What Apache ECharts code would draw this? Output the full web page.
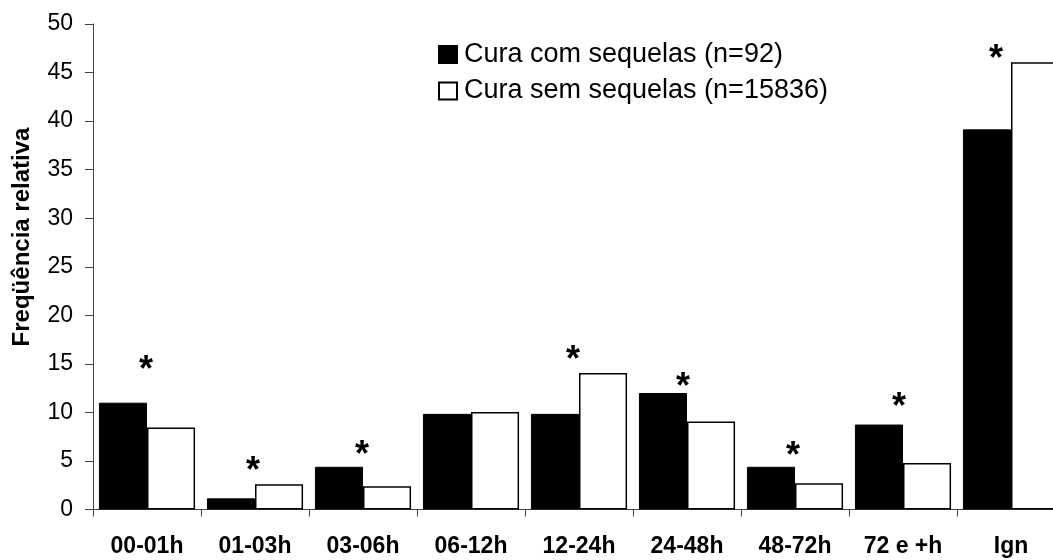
<!DOCTYPE html>
<html>
<head>
<meta charset="utf-8">
<script src="https://cdn.jsdelivr.net/npm/echarts@6/dist/echarts.min.js"></script>
<style>html,body{margin:0;padding:0;background:#fff}#c{width:1053px;height:560px}</style>
</head>
<body>
<div id="c"></div>
<script>
var categories = ['00-01h', '01-03h', '03-06h', '06-12h', '12-24h', '24-48h', '48-72h', '72 e +h', 'Ign'];
var comSequelas = [11.0, 1.15, 4.4, 9.85, 9.85, 12.0, 4.4, 8.75, 39.15];
var semSequelas = [8.45, 2.6, 2.4, 10.05, 14.05, 9.05, 2.7, 4.8, 46.05];
var asteriskY = [15.1, 4.65, 6.3, null, 16.15, 13.35, 6.2, 11.3, 47.15];
var asteriskDx = [-1, -2, -1, 0, -6, -4, -2, -4, -15];
var yTicks = { min: 0, max: 50, interval: 5 };
var seriesNames = ['Cura com sequelas (n=92)', 'Cura sem sequelas (n=15836)'];
var yTitle = 'Freqüência relativa';

var FONT = 'Liberation Sans, Arial, sans-serif';
var chart = echarts.init(document.getElementById('c'), null, { renderer: 'canvas' });

var starData = asteriskY.map(function (v, i) {
  if (v === null) return '-';
  return { value: v, label: { offset: [asteriskDx[i], 8] } };
});

chart.setOption({
  animation: false,
  backgroundColor: '#fff',
  grid: { left: 93, width: 972, top: 24, bottom: 50.5, containLabel: false, outerBoundsMode: 'none' },
  legend: {
    orient: 'vertical',
    left: 438,
    top: 41,
    padding: 0,
    itemWidth: 18,
    itemHeight: 17,
    itemGap: 9.5,
    icon: 'rect',
    data: seriesNames,
    textStyle: { fontFamily: FONT, fontSize: 27, color: '#000', padding: [0, 0, 0, 2] }
  },
  graphic: [{
    type: 'text',
    rotation: Math.PI / 2,
    x: 22, y: 237,
    style: {
      text: yTitle,
      font: 'bold 24px ' + FONT,
      fill: '#000',
      align: 'center',
      verticalAlign: 'middle'
    }
  }],
  xAxis: {
    type: 'category',
    data: categories,
    axisLine: { lineStyle: { color: '#444', width: 1 } },
    axisTick: { show: true, length: 7, lineStyle: { color: '#444' } },
    axisLabel: { fontFamily: FONT, fontSize: 23, fontWeight: 'bold', color: '#000', margin: 26, interval: 0 },
    splitLine: { show: false }
  },
  yAxis: {
    type: 'value',
    min: yTicks.min,
    max: yTicks.max,
    interval: yTicks.interval,
    axisLine: { show: true, lineStyle: { color: '#444', width: 1 } },
    axisTick: { show: true, length: 8, lineStyle: { color: '#444' } },
    axisLabel: { fontFamily: FONT, fontSize: 23, color: '#000', margin: 20 },
    splitLine: { show: false }
  },
  series: [
    {
      name: seriesNames[0],
      type: 'bar',
      data: comSequelas,
      barGap: '0%',
      barCategoryGap: '11%',
      itemStyle: { color: '#000', borderColor: '#000', borderWidth: 1 }
    },
    {
      name: seriesNames[1],
      type: 'bar',
      data: semSequelas,
      barGap: '0%',
      barCategoryGap: '11%',
      itemStyle: { color: '#fff', borderColor: '#000', borderWidth: 1.5 }
    },
    {
      name: 'asterisk',
      type: 'scatter',
      data: starData,
      symbol: 'circle',
      symbolSize: 1,
      itemStyle: { color: 'rgba(255,255,255,0)', opacity: 1 },
      silent: true,
      z: 5,
      label: {
        show: true,
        position: 'inside',
        formatter: '*',
        fontFamily: FONT,
        fontSize: 36,
        fontWeight: 'bold',
        color: '#000',
        opacity: 1
      }
    }
  ]
});
</script>
</body>
</html>
